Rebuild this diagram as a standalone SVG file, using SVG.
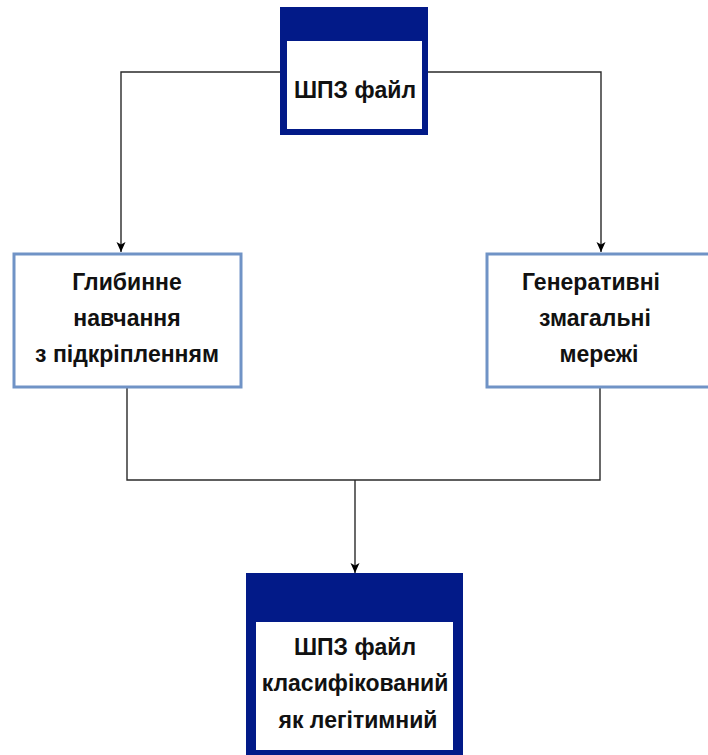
<svg xmlns="http://www.w3.org/2000/svg" width="708" height="755" viewBox="0 0 708 755">
  <style>
    .lbl { font-family: "Liberation Sans", Arial, sans-serif; font-weight: bold; font-size: 23px; fill: #111; text-anchor: middle; }
    .hdr { fill: #021a88; }
    .body { fill: #ffffff; }
    .proc { fill: #ffffff; stroke: #7093c6; stroke-width: 3; }
    .wire { fill: none; stroke: #2a2a2a; stroke-width: 1.4; }
  </style>
  <defs>
    <marker id="arrow" viewBox="0 0 10 10" refX="10" refY="5" markerWidth="10" markerHeight="10" markerUnits="userSpaceOnUse" orient="auto">
      <path d="M0,0.5 L10,5 L0,9.5 L2.5,5 Z" fill="#000"/>
    </marker>
  </defs>

  <g id="connectors">
    <path class="wire" d="M280,72 H121 V252" marker-end="url(#arrow)"/>
    <path class="wire" d="M428,72 H601 V252" marker-end="url(#arrow)"/>
    <path class="wire" d="M127,388 V480 H600 V388"/>
    <path class="wire" d="M355,480 V573" marker-end="url(#arrow)"/>
  </g>

  <g id="node-source">
    <rect class="hdr" x="280" y="7" width="148" height="128"/>
    <rect class="body" x="287" y="41" width="135" height="88"/>
    <text class="lbl" x="355" y="98">ШПЗ файл</text>
  </g>

  <g id="node-rl">
    <rect class="proc" x="14" y="254" width="227" height="133"/>
    <text class="lbl" x="127" y="290">Глибинне</text>
    <text class="lbl" x="127" y="326">навчання</text>
    <text class="lbl" x="127" y="362">з підкріпленням</text>
  </g>

  <g id="node-gan">
    <rect class="proc" x="487" y="254" width="227" height="133"/>
    <text class="lbl" x="591" y="290">Генеративні</text>
    <text class="lbl" x="595" y="326">змагальні</text>
    <text class="lbl" x="599" y="362">мережі</text>
  </g>

  <g id="node-result">
    <rect class="hdr" x="246" y="573" width="217" height="182"/>
    <rect class="body" x="256" y="622" width="197" height="128"/>
    <text class="lbl" x="355" y="655">ШПЗ файл</text>
    <text class="lbl" x="355" y="691">класифікований</text>
    <text class="lbl" x="358" y="728">як легітимний</text>
  </g>
</svg>
